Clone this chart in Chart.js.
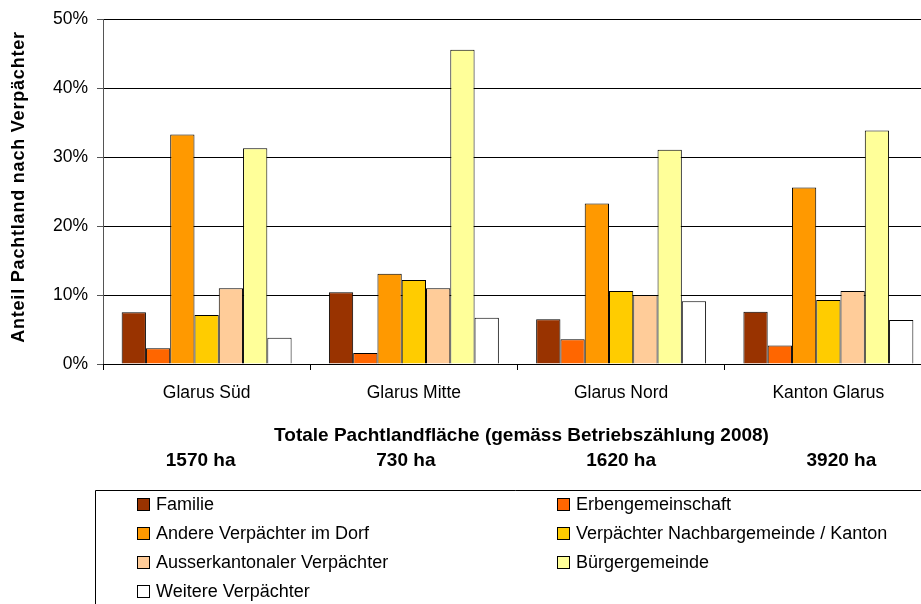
<!DOCTYPE html>
<html>
<head>
<meta charset="utf-8">
<script src="https://cdn.jsdelivr.net/npm/chart.js@4/dist/chart.umd.min.js"></script>
<style>
html,body{margin:0;padding:0;background:#fff;overflow:hidden;width:921px;height:604px;}
canvas{display:block;}
</style>
</head>
<body>
<canvas id="c" width="935" height="620"></canvas>
<script>
const categories = ['Glarus Süd', 'Glarus Mitte', 'Glarus Nord', 'Kanton Glarus'];
const areaLabels = ['1570 ha', '730 ha', '1620 ha', '3920 ha'];
const yTicks = [0, 10, 20, 30, 40, 50];

const familie   = [7.5, 10.4, 6.5, 7.6];
const erben     = [2.3, 1.6, 3.6, 2.7];
const andere    = [33.3, 13.1, 23.3, 25.6];
const nachbar   = [7.1, 12.2, 10.6, 9.3];
const ausser    = [11.0, 11.0, 10.0, 10.6];
const buerger   = [31.3, 45.6, 31.1, 33.9];
const weitere   = [3.8, 6.7, 9.1, 6.4];

const seriesNames = ['Familie', 'Erbengemeinschaft', 'Andere Verpächter im Dorf',
  'Verpächter Nachbargemeinde / Kanton', 'Ausserkantonaler Verpächter', 'Bürgergemeinde', 'Weitere Verpächter'];
const seriesValues = [familie, erben, andere, nachbar, ausser, buerger, weitere];
const seriesColors = ['#993300', '#FF6600', '#FF9900', '#FFCC00', '#FFCC99', '#FFFF99', '#FFFFFF'];

const FONT = "'Liberation Sans', Arial, sans-serif";

const extras = {
  id: 'extras',
  afterDraw(chart) {
    const ctx = chart.ctx;
    const ca = chart.chartArea;
    const xs = chart.scales.x;
    ctx.save();
    // y axis title
    ctx.fillStyle = '#000';
    ctx.font = 'bold 18px ' + FONT;
    ctx.textAlign = 'center';
    ctx.textBaseline = 'middle';
    try { ctx.letterSpacing = '0.8px'; } catch(e) {}
    ctx.translate(19, 187);
    ctx.rotate(-Math.PI / 2);
    ctx.fillText('Anteil Pachtland nach Verpächter', 0, 0);
    ctx.restore();

    ctx.save();
    try { ctx.letterSpacing = '0px'; } catch(e) {}
    ctx.fillStyle = '#000';
    ctx.font = 'bold 19px ' + FONT;
    ctx.textAlign = 'center';
    ctx.textBaseline = 'middle';
    ctx.fillText('Totale Pachtlandfläche (gemäss Betriebszählung 2008)', (ca.left + ca.right) / 2 + 4, 436);
    const offs = [-6, -8, 0, 13];
    areaLabels.forEach((t, i) => {
      ctx.fillText(t, xs.getPixelForValue(i) + offs[i], 461);
    });

    // legend box
    ctx.strokeStyle = '#000';
    ctx.lineWidth = 1;
    ctx.beginPath();
    ctx.moveTo(95.5, 640);
    ctx.lineTo(95.5, 490.5);
    ctx.lineTo(960, 490.5);
    ctx.stroke();

    const rowY = [504, 533, 562, 591];
    const swX = [137, 557];
    ctx.font = '18px ' + FONT;
    ctx.textAlign = 'left';
    chart.data.datasets.forEach((ds, i) => {
      const r = Math.floor(i / 2), c = i % 2;
      const y = rowY[r];
      ctx.fillStyle = ds.backgroundColor;
      ctx.fillRect(swX[c] + 0.5, y - 6 + 0.5, 12, 12);
      ctx.strokeStyle = '#000';
      ctx.strokeRect(swX[c] + 0.5, y - 6 + 0.5, 12, 12);
      ctx.fillStyle = '#000';
      ctx.fillText(ds.label, swX[c] + 19, y + 1);
    });
    ctx.restore();
  }
};

new Chart(document.getElementById('c'), {
  type: 'bar',
  data: {
    labels: categories,
    datasets: seriesNames.map((n, i) => ({
      label: n,
      data: seriesValues[i],
      backgroundColor: seriesColors[i],
      borderColor: '#000',
      borderWidth: 1,
      barPercentage: 1.0,
      categoryPercentage: 0.82
    }))
  },
  options: {
    responsive: false,
    animation: false,
    devicePixelRatio: 1,
    layout: { padding: { left: 0, top: 17, right: 3, bottom: 0 } },
    plugins: { legend: { display: false }, tooltip: { enabled: false } },
    scales: {
      y: {
        min: 0, max: 50,
        afterFit: s => { s.width = 103; },
        afterBuildTicks: s => { s.ticks = yTicks.map(v => ({ value: v })); },
        ticks: {
          callback: v => v + '%',
          color: '#000',
          font: { family: FONT, size: 17.5 },
          padding: 9
        },
        grid: { color: '#000', lineWidth: 1, tickLength: 6, tickColor: '#555' },
        border: { display: true, color: '#555', width: 1 }
      },
      x: {
        afterFit: s => { s.height = 256; },
        ticks: {
          color: '#000',
          font: { family: FONT, size: 17.5 },
          padding: 13,
          maxRotation: 0
        },
        grid: { drawOnChartArea: false, drawTicks: true, tickLength: 6, offset: true, color: '#000' },
        border: { display: true, color: '#000', width: 1 }
      }
    }
  },
  plugins: [extras]
});
</script>
</body>
</html>
